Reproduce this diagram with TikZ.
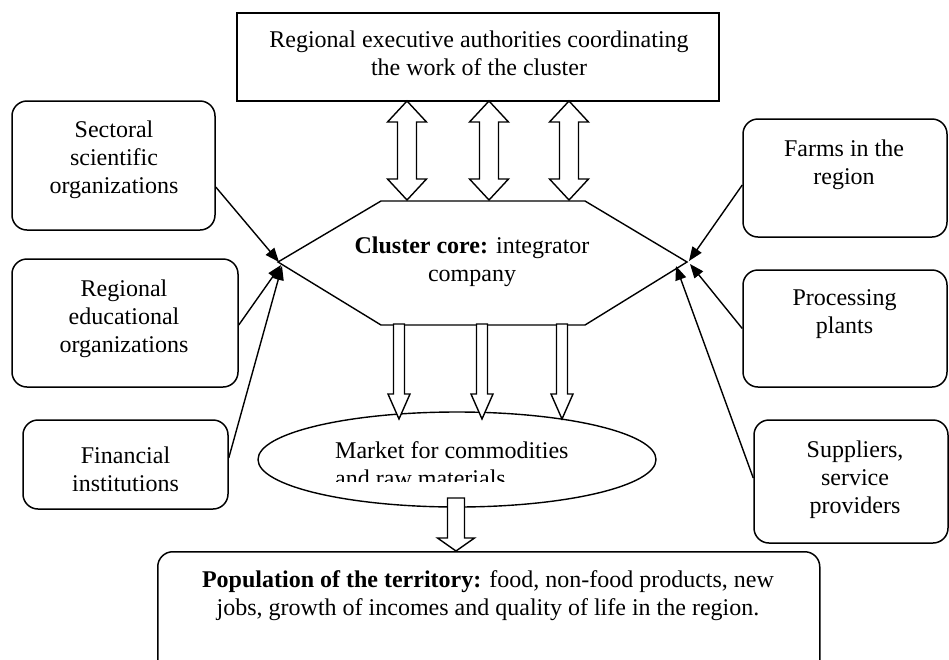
\documentclass[tikz,border=0pt]{standalone}
\usepackage{fontspec}
\setmainfont{Liberation Serif}
\usetikzlibrary{arrows.meta,calc,shapes.geometric}
\begin{document}
\begin{tikzpicture}[x=1pt,y=-1pt,
  every node/.style={font=\fontsize{24pt}{28pt}\selectfont},
  box/.style={draw, line width=1.5pt, rounded corners=15pt, inner sep=0pt},
  sqbox/.style={draw, line width=1.5pt, inner sep=0pt},
  txt/.style={align=center, inner sep=0pt},
  lnk/.style={line width=1.4pt, -{Triangle[length=14pt,width=11pt]}},
  blk/.style={draw, line width=1.4pt, fill=white, line join=miter},
  dblarrow/.pic={\path[blk] (0,0) -- (19.5,21) -- (9.5,21) -- (9.5,78) -- (19.5,78) -- (0,99) -- (-19.5,78) -- (-9.5,78) -- (-9.5,21) -- (-19.5,21) -- cycle;},
  downarrow/.pic={\path[blk] (-5.5,0) -- (5.5,0) -- (5.5,70) -- (11,70) -- (0,95) -- (-11,70) -- (-5.5,70) -- cycle;},
  bigdown/.pic={\path[blk] (-8.5,0) -- (8.5,0) -- (8.5,40) -- (18.5,40) -- (0,53) -- (-18.5,40) -- (-8.5,40) -- cycle;},
]
\useasboundingbox (0,0) rectangle (949,659);
\clip (0,0) rectangle (949,659);

% top box
\node[sqbox, minimum width=482pt, minimum height=88pt] (top) at (478,57) {};
\node[txt] (topT) at (479,53) {Regional executive authorities coordinating\\the work of the cluster};

% hexagon core
\coordinate (hl) at (278,262);
\coordinate (hr) at (687,262);
\draw[line width=1.4pt, line join=miter] (381,201) -- (585,201) -- (hr) -- (585,325) -- (381,325) -- (hl) -- cycle;
\node[txt] (core) at (472,261.5) {\textbf{Cluster core:} integrator\\company};

% double arrows
\pic at (407,101) {dblarrow};
\pic at (489,101) {dblarrow};
\pic at (569,101) {dblarrow};

% market ellipse
\node[draw, ellipse, line width=1.4pt, minimum width=398pt, minimum height=95pt, inner sep=0pt] (market) at (457,459.5) {};
\begin{scope}
  \clip (260,400) rectangle (650,481.5);
  \node[anchor=base west, inner sep=0pt] (mk1) at (335,458) {Market for commodities};
  \node[anchor=base west, inner sep=0pt] (mk2) at (335,486) {and raw materials};
\end{scope}

% down arrows
\pic at (399,324) {downarrow};
\pic at (482,324) {downarrow};
\pic at (562,324) {downarrow};

% population box
\node[box, minimum width=662pt, minimum height=150pt, anchor=north west] (pop) at (157,551) {};
\node[txt] (popT) at (488,596) {\textbf{Population of the territory:} food, non-food products, new\\jobs, growth of incomes and quality of life in the region.};
\pic at (456,498) {bigdown};

% left boxes
\node[box, minimum width=203pt, minimum height=129pt] (sci) at (113.5,165.5) {};
\node[txt] (sciT) at (114,160) {Sectoral\\scientific\\organizations};
\node[box, minimum width=226pt, minimum height=128pt] (edu) at (125,323) {};
\node[txt] (eduT) at (124,318.5) {Regional\\educational\\organizations};
\node[box, minimum width=205pt, minimum height=89pt] (fin) at (125.5,464.5) {};
\node[txt] (finT) at (125.5,469) {Financial\\institutions};

% right boxes
\node[box, minimum width=204pt, minimum height=118pt] (farms) at (845,178) {};
\node[txt] (farmsT) at (844,164.5) {Farms in the\\region};
\node[box, minimum width=204pt, minimum height=117pt] (proc) at (845,328.5) {};
\node[txt] (procT) at (844.5,314) {Processing\\plants};
\node[box, minimum width=194pt, minimum height=123pt] (supp) at (851,481.5) {};
\node[txt] (suppT) at (855,480) {Suppliers,\\service\\providers};

% connectors
\draw[lnk] ([yshift=-21.5pt]sci.east) -- ([xshift=1pt]hl);
\draw[lnk] ([yshift=-2pt]edu.east) -- ([xshift=3pt,yshift=-3pt]hl);
\draw[lnk] ([yshift=6.5pt]fin.east) -- ([xshift=4pt,yshift=-4pt]hl);
\draw[lnk] ([yshift=-7pt]farms.west) -- ([xshift=2pt,yshift=1pt]hr);
\draw[lnk] (proc.west) -- ([xshift=3pt,yshift=-2pt]hr);
\draw[lnk] ([yshift=3.5pt]supp.west) -- ([xshift=-11pt,yshift=-4pt]hr);
\end{tikzpicture}
\end{document}
